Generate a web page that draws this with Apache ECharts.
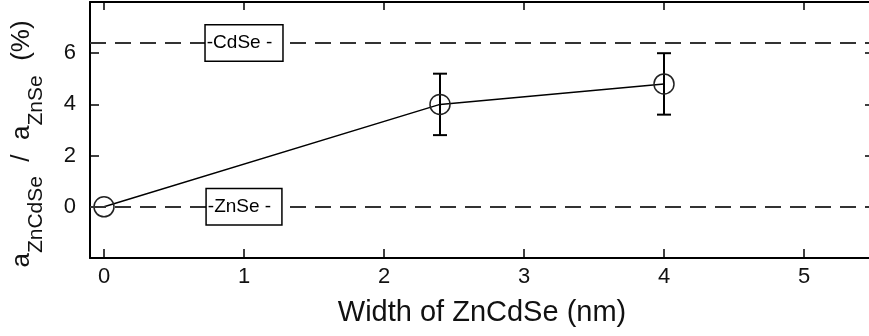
<!DOCTYPE html>
<html><head><meta charset="utf-8">
<script src="https://cdn.jsdelivr.net/npm/echarts@6/dist/echarts.min.js"></script>
<style>html,body{margin:0;padding:0;background:#fff}#c{width:869px;height:336px}</style>
</head><body><div id="c"></div>
<script>
// ---- data ----
const widths = [0, 2.4, 4.0];
const ratios = [0, 4.0, 4.8];
const errLow = [null, 2.8, 3.6];
const errHigh = [null, 5.2, 6.0];
const refValues = [6.4, 0];
const refNames = ['CdSe', 'ZnSe'];
const refLabelX = [1.0, 1.0];
const xTicks = [0, 1, 2, 3, 4, 5];
const yTicks = [0, 2, 4, 6];
const xTitle = 'Width of ZnCdSe (nm)';

const FONT = "'Liberation Sans', Arial, sans-serif";
const INK = '#111';

const points = widths.map((w, i) => [w, ratios[i]]);
const errData = widths.map((w, i) => [w, errLow[i], errHigh[i]]).filter(d => d[1] !== null);
const refLabelData = refValues.map((v, i) => [refLabelX[i], v, refNames[i]]);

const axisLine = { show: true, onZero: false, lineStyle: { color: '#000', width: 2 } };
const tickStyle = { color: '#000', width: 1.5 };

const chart = echarts.init(document.getElementById('c'), null, { renderer: 'canvas' });
chart.setOption({
  animation: false,
  backgroundColor: '#fff',
  grid: { left: 90, width: 784, top: 2, bottom: 78, containLabel: false, outerBoundsMode: 'none' },
  xAxis: [{
    type: 'value', min: -0.1, max: 5.5, position: 'bottom',
    axisLine, splitLine: { show: false },
    axisTick: { show: true, inside: true, length: 9, lineStyle: tickStyle, customValues: xTicks },
    axisLabel: { show: true, margin: 8, fontSize: 22, fontFamily: FONT, color: INK, customValues: xTicks },
    name: xTitle, nameLocation: 'middle', nameGap: 40,
    nameTextStyle: { fontSize: 29, fontFamily: FONT, color: INK }
  }, {
    type: 'value', min: -0.1, max: 5.5, position: 'top',
    axisLine, splitLine: { show: false },
    axisTick: { show: true, inside: true, length: 8, lineStyle: tickStyle, customValues: xTicks },
    axisLabel: { show: false }
  }],
  yAxis: [{
    type: 'value', min: -2, max: 8, interval: 2, position: 'left',
    axisLine, splitLine: { show: false },
    axisTick: { show: true, inside: true, length: 9, lineStyle: tickStyle, customValues: yTicks },
    axisLabel: { show: true, margin: 14, fontSize: 22, fontFamily: FONT, color: INK, customValues: yTicks }
  }, {
    type: 'value', min: -2, max: 8, interval: 2, position: 'right',
    axisLine, splitLine: { show: false },
    axisTick: { show: true, inside: true, length: 9, lineStyle: tickStyle, customValues: yTicks },
    axisLabel: { show: false }
  }],
  graphic: [{
    type: 'text', x: 22, y: 144, rotation: Math.PI / 2, z: 10,
    style: {
      text: '{m|a}{s|ZnCdSe}{m|  /  a}{s|ZnSe}{m|  (%)}',
      align: 'center', verticalAlign: 'middle',
      textAlign: 'center', textVerticalAlign: 'middle',
      fill: INK,
      rich: {
        m: { fontSize: 26, fontFamily: FONT, fill: INK, color: INK },
        s: { fontSize: 21, fontFamily: FONT, fill: INK, color: INK, padding: [28, 0, 0, 0] }
      }
    }
  }],
  series: [{
    type: 'line', name: 'refs', data: [], z: 1,
    markLine: {
      silent: true, symbol: 'none', animation: false,
      label: { show: false },
      lineStyle: { color: '#333', width: 2, type: [16, 9] },
      data: refValues.map(v => ({ yAxis: v }))
    }
  }, {
    type: 'scatter', name: 'refLabels', data: refLabelData, z: 5,
    symbolSize: 0,
    itemStyle: { opacity: 1 },
    emphasis: { disabled: true },
    label: {
      show: true, position: 'inside',
      formatter: p => '-' + p.value[2] + ' -',
      fontSize: 19, fontFamily: FONT, color: '#000', opacity: 1,
      backgroundColor: '#fff', borderColor: '#000', borderWidth: 1.5,
      padding: [8, 10, 8, 1]
    }
  }, {
    type: 'custom', name: 'err', data: errData, z: 3,
    renderItem: (params, api) => {
      const x = api.value(0);
      const lo = api.coord([x, api.value(1)]);
      const hi = api.coord([x, api.value(2)]);
      const hw = 7;
      const st = { stroke: '#000', lineWidth: 2 };
      return {
        type: 'group', children: [
          { type: 'line', shape: { x1: lo[0], y1: lo[1], x2: hi[0], y2: hi[1] }, style: st },
          { type: 'line', shape: { x1: lo[0] - hw, y1: lo[1], x2: lo[0] + hw, y2: lo[1] }, style: st },
          { type: 'line', shape: { x1: hi[0] - hw, y1: hi[1], x2: hi[0] + hw, y2: hi[1] }, style: st }
        ]
      };
    }
  }, {
    type: 'line', name: 'ratio', data: points, z: 4,
    symbol: 'circle', symbolSize: 20, showSymbol: true,
    lineStyle: { color: '#000', width: 1.5 },
    itemStyle: { color: 'rgba(0,0,0,0)', borderColor: '#222', borderWidth: 1.5 }
  }]
});
</script>
</body></html>
